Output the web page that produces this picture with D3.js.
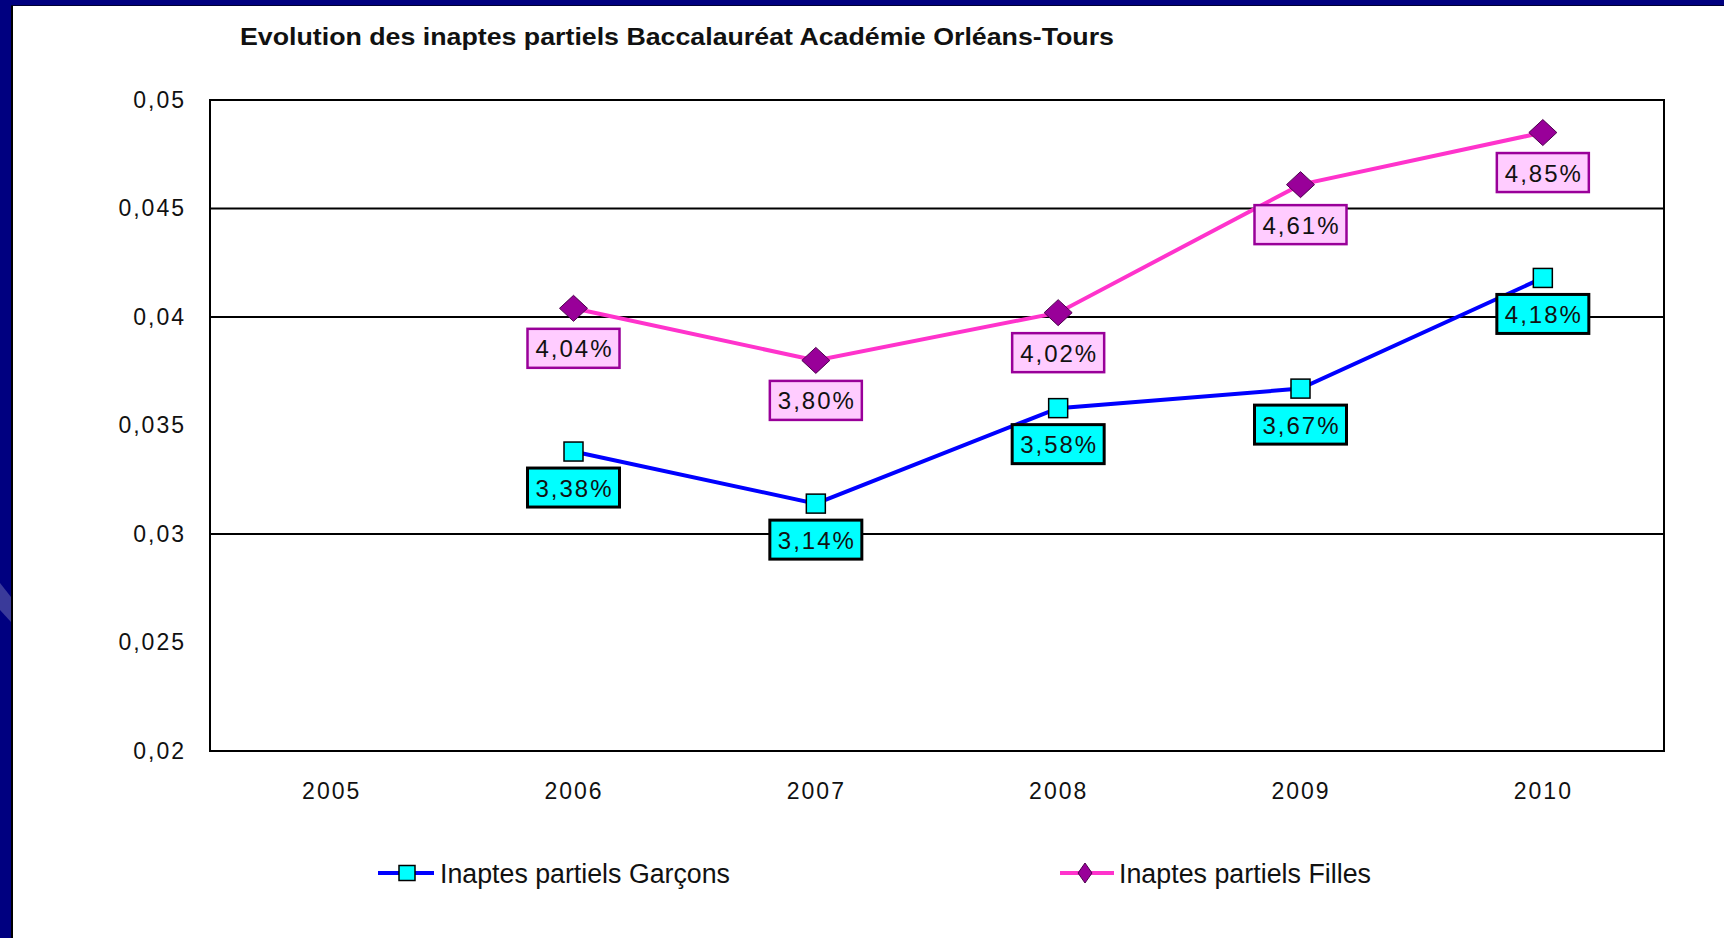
<!DOCTYPE html>
<html>
<head>
<meta charset="utf-8">
<script src="https://cdn.jsdelivr.net/npm/d3@7"></script>
<style>
  body { margin: 0; background: #fff; }
  svg { display: block; }
  text { font-family: "Liberation Sans", Arial, sans-serif; }
</style>
</head>
<body>
<div id="chart"></div>
<script>
// data
var years = ["2005", "2006", "2007", "2008", "2009", "2010"];
var garconsYears = ["2006", "2007", "2008", "2009", "2010"];
var garconsValues = [0.0338, 0.0314, 0.0358, 0.0367, 0.0418];
var fillesYears = ["2006", "2007", "2008", "2009", "2010"];
var fillesValues = [0.0404, 0.0380, 0.0402, 0.0461, 0.0485];
var yTicks = [0.05, 0.045, 0.04, 0.035, 0.03, 0.025, 0.02];
var gridTicks = [0.045, 0.04, 0.03];
var seriesNames = ["Inaptes partiels Garçons", "Inaptes partiels Filles"];
var title = "Evolution des inaptes partiels Baccalauréat Académie Orléans-Tours";

var svgWidth = 1724;
var svgHeight = 938;

var plot = { left: 210, right: 1664, top: 100, bottom: 751 };

var svg = d3.select("#chart")
  .append("svg")
  .attr("width", svgWidth)
  .attr("height", svgHeight);

// slide frame (navy band on the left and top)
svg.append("rect").attr("x", 0).attr("y", 0).attr("width", svgWidth).attr("height", svgHeight).attr("fill", "#fff");
svg.append("rect").attr("x", 0).attr("y", 0).attr("width", svgWidth).attr("height", 6).attr("fill", "#000080");
svg.append("rect").attr("x", 0).attr("y", 0).attr("width", 11).attr("height", svgHeight).attr("fill", "#000080");
svg.append("rect").attr("x", 11).attr("y", 6).attr("width", 2).attr("height", svgHeight).attr("fill", "#000");
svg.append("rect").attr("x", 11).attr("y", 5).attr("width", svgWidth).attr("height", 1).attr("fill", "#000033");
svg.append("polygon")
  .attr("points", "0,583 11,597 11,622 0,610")
  .attr("fill", "#3a3a9a");

var x = d3.scalePoint()
  .domain(years)
  .range([plot.left, plot.right])
  .padding(0.5);

var y = d3.scaleLinear()
  .domain([0.02, 0.05])
  .range([plot.bottom, plot.top]);

var comma = function(s) { return s.replace(".", ","); };

// title
svg.append("text")
  .attr("x", 240)
  .attr("y", 45)
  .attr("font-size", 23)
  .attr("font-weight", "bold")
  .attr("fill", "#111")
  .attr("textLength", 874)
  .attr("lengthAdjust", "spacingAndGlyphs")
  .text(title);

// gridlines
svg.append("g")
  .selectAll("line")
  .data(gridTicks)
  .enter()
  .append("line")
  .attr("x1", plot.left)
  .attr("x2", plot.right)
  .attr("y1", d => y(d))
  .attr("y2", d => y(d))
  .attr("stroke", "#000")
  .attr("stroke-width", 2);

// plot frame
svg.append("rect")
  .attr("x", plot.left)
  .attr("y", plot.top)
  .attr("width", plot.right - plot.left)
  .attr("height", plot.bottom - plot.top)
  .attr("fill", "none")
  .attr("stroke", "#000")
  .attr("stroke-width", 2);

// y axis labels
var leftAxis = d3.axisLeft(y)
  .tickValues(yTicks)
  .tickSize(0)
  .tickPadding(24)
  .tickFormat(d => comma(String(d)));

var yAxis = svg.append("g")
  .attr("transform", `translate(${plot.left}, 0)`)
  .call(leftAxis);
yAxis.select(".domain").remove();
yAxis.selectAll("text")
  .attr("font-size", 23)
  .attr("letter-spacing", 2)
  .attr("fill", "#111")
  .attr("font-family", "Liberation Sans, Arial, sans-serif");

// x axis labels
var bottomAxis = d3.axisBottom(x).tickSize(0).tickPadding(32);
var xAxis = svg.append("g")
  .attr("transform", `translate(0, ${plot.bottom})`)
  .call(bottomAxis);
xAxis.select(".domain").remove();
xAxis.selectAll("text")
  .attr("font-size", 23)
  .attr("letter-spacing", 2)
  .attr("fill", "#111")
  .attr("font-family", "Liberation Sans, Arial, sans-serif");

var garcons = garconsYears.map((yr, i) => ({ year: yr, value: garconsValues[i] }));
var filles = fillesYears.map((yr, i) => ({ year: yr, value: fillesValues[i] }));

var line = d3.line()
  .x(d => x(d.year))
  .y(d => y(d.value));

svg.append("path")
  .datum(garcons)
  .attr("d", line)
  .attr("fill", "none")
  .attr("stroke", "#0000ff")
  .attr("stroke-width", 4);

svg.append("path")
  .datum(filles)
  .attr("d", line)
  .attr("fill", "none")
  .attr("stroke", "#ff33cc")
  .attr("stroke-width", 4);

var diamond = function(cx, cy, hw, hh) {
  return `M${cx},${cy - hh}L${cx + hw},${cy}L${cx},${cy + hh}L${cx - hw},${cy}Z`;
};

// markers
svg.append("g")
  .selectAll("rect")
  .data(garcons)
  .enter()
  .append("rect")
  .attr("x", d => x(d.year) - 9.5)
  .attr("y", d => y(d.value) - 9.5)
  .attr("width", 19)
  .attr("height", 19)
  .attr("fill", "#00ffff")
  .attr("stroke", "#000")
  .attr("stroke-width", 1.5);

svg.append("g")
  .selectAll("path")
  .data(filles)
  .enter()
  .append("path")
  .attr("d", d => diamond(x(d.year), y(d.value), 14, 13))
  .attr("fill", "#990099")
  .attr("stroke", "#4d004d")
  .attr("stroke-width", 1);

// data labels
function addLabels(data, offset, fill, stroke, strokeWidth) {
  var g = svg.append("g")
    .selectAll("g")
    .data(data)
    .enter()
    .append("g")
    .attr("transform", d => `translate(${x(d.year)}, ${y(d.value) + offset})`);
  g.append("rect")
    .attr("x", -46)
    .attr("y", -19.5)
    .attr("width", 92)
    .attr("height", 39)
    .attr("fill", fill)
    .attr("stroke", stroke)
    .attr("stroke-width", strokeWidth);
  g.append("text")
    .attr("text-anchor", "middle")
    .attr("x", 1)
    .attr("y", 9)
    .attr("font-size", 24)
    .attr("letter-spacing", 2)
    .attr("fill", "#111")
    .text(d => comma(d3.format(".2%")(d.value)));
}
addLabels(filles, 40, "#ffccff", "#990099", 2.5);
addLabels(garcons, 36, "#00ffff", "#000", 3);

// legend
var legendY = 873;
var lg1 = svg.append("g");
lg1.append("line").attr("x1", 378).attr("x2", 434).attr("y1", legendY).attr("y2", legendY)
  .attr("stroke", "#0000ff").attr("stroke-width", 4);
lg1.append("rect").attr("x", 399).attr("y", legendY - 7.5).attr("width", 16).attr("height", 15)
  .attr("fill", "#00ffff").attr("stroke", "#000").attr("stroke-width", 1.5);
lg1.append("text").attr("x", 440).attr("y", legendY + 10).attr("font-size", 27).attr("fill", "#111")
  .attr("textLength", 290).attr("lengthAdjust", "spacingAndGlyphs")
  .text(seriesNames[0]);

var lg2 = svg.append("g");
lg2.append("line").attr("x1", 1060).attr("x2", 1114).attr("y1", legendY).attr("y2", legendY)
  .attr("stroke", "#ff33cc").attr("stroke-width", 4);
lg2.append("path").attr("d", diamond(1085, legendY, 7, 10))
  .attr("fill", "#990099").attr("stroke", "#4d004d").attr("stroke-width", 1);
lg2.append("text").attr("x", 1119).attr("y", legendY + 10).attr("font-size", 27).attr("fill", "#111")
  .attr("textLength", 252).attr("lengthAdjust", "spacingAndGlyphs")
  .text(seriesNames[1]);
</script>
</body>
</html>
